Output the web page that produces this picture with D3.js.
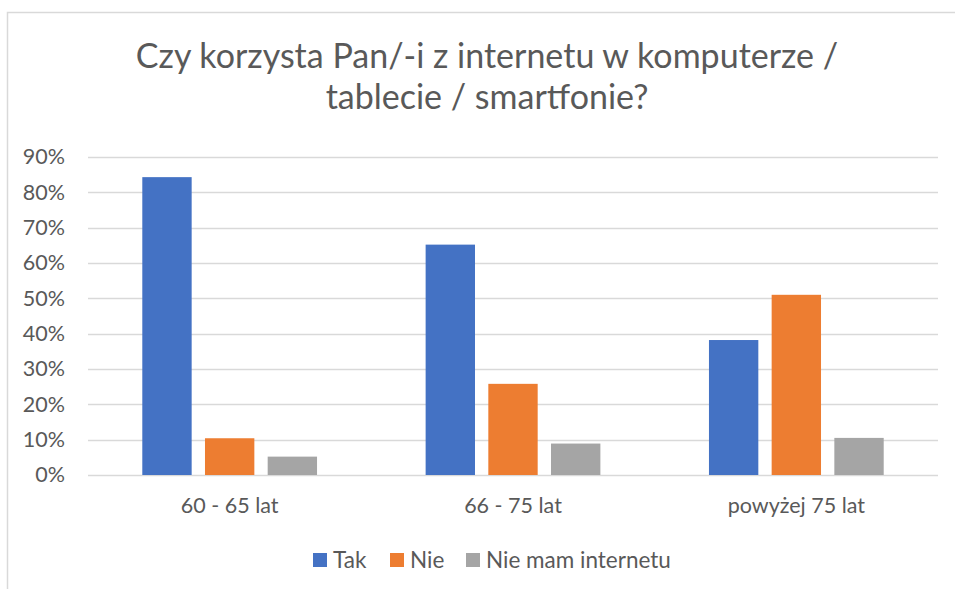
<!DOCTYPE html>
<html>
<head>
<meta charset="utf-8">
<script src="https://cdn.jsdelivr.net/npm/d3@7"></script>
<style>
  body { margin: 0; background: #fff; }
  svg { display: block; font-family: Lato, "Open Sans", sans-serif; }
</style>
</head>
<body>
<svg id="chart"></svg>
<script>
// data
const categories = ["60 - 65 lat", "66 - 75 lat", "powyżej 75 lat"];
const seriesNames = ["Tak", "Nie", "Nie mam internetu"];
const tak = [0.843, 0.652, 0.382];
const nie = [0.104, 0.258, 0.510];
const brak = [0.052, 0.089, 0.105];
const yTicks = [0, 0.1, 0.2, 0.3, 0.4, 0.5, 0.6, 0.7, 0.8, 0.9];
const titleLines = ["Czy korzysta Pan/-i z internetu w komputerze /", "tablecie / smartfonie?"];

const colors = ["#4472c4", "#ed7d31", "#a5a5a5"];
const textColor = "#595959";
const font = "Lato, sans-serif";

const width = 955, height = 589;
const margin = { top: 157, right: 17, bottom: 114, left: 88 };

const svg = d3.select("#chart")
  .attr("width", width)
  .attr("height", height);

// chart frame (runs off right / bottom edge like the screenshot)
svg.append("rect")
  .attr("x", 7.5).attr("y", 12.5)
  .attr("width", 960).attr("height", 600)
  .attr("fill", "none")
  .attr("stroke", "#d9d9d9")
  .attr("stroke-width", 1.5);

const y = d3.scaleLinear()
  .domain([0, 0.9])
  .range([height - margin.bottom, margin.top]);

const x0 = d3.scaleBand()
  .domain(categories)
  .range([margin.left, width - margin.right]);

// excel style: gap width ~220%, overlap ~ -27%
const barW = x0.bandwidth() / 5.74;
const groupW = barW * 3.54;
const x1 = d3.scaleBand()
  .domain(d3.range(seriesNames.length))
  .range([0, groupW])
  .paddingInner(0.27 / 1.27);

// gridlines
svg.append("g")
  .selectAll("line")
  .data(yTicks)
  .join("line")
  .attr("x1", margin.left)
  .attr("x2", width - margin.right)
  .attr("y1", d => Math.round(y(d)) + 0.5)
  .attr("y2", d => Math.round(y(d)) + 0.5)
  .attr("stroke", "#d9d9d9")
  .attr("stroke-width", 1.3);

// y axis labels
const yAxis = d3.axisLeft(y)
  .tickValues(yTicks)
  .tickFormat(d3.format(".0%"))
  .tickSize(0)
  .tickPadding(23);

svg.append("g")
  .attr("transform", `translate(${margin.left},0)`)
  .call(yAxis)
  .call(g => g.select(".domain").remove())
  .call(g => g.selectAll("text")
    .attr("fill", textColor)
    .attr("font-size", 21.5)
    .attr("font-family", font));

// bars
const rows = categories.map((c, i) => ({ cat: c, vals: [tak[i], nie[i], brak[i]] }));

svg.append("g")
  .selectAll("g")
  .data(rows)
  .join("g")
  .attr("transform", d => `translate(${x0(d.cat) + (x0.bandwidth() - groupW) / 2},0)`)
  .selectAll("rect")
  .data(d => d.vals.map((v, i) => ({ v, i })))
  .join("rect")
  .attr("x", d => x1(d.i))
  .attr("width", x1.bandwidth())
  .attr("y", d => y(d.v))
  .attr("height", d => y(0) - y(d.v))
  .attr("fill", d => colors[d.i]);

// category axis
const xAxis = d3.axisBottom(x0).tickSize(0).tickPadding(23);
svg.append("g")
  .attr("transform", `translate(0,${height - margin.bottom})`)
  .call(xAxis)
  .call(g => g.select(".domain").remove())
  .call(g => g.selectAll("text")
    .attr("fill", textColor)
    .attr("font-size", 21.5)
    .attr("font-family", font));

// title
svg.append("text")
  .attr("y", 68)
  .attr("text-anchor", "middle")
  .attr("fill", textColor)
  .attr("font-size", 34)
  .selectAll("tspan")
  .data(titleLines)
  .join("tspan")
  .attr("x", 487)
  .attr("dy", (d, i) => i === 0 ? 0 : 41)
  .text(d => d);

// legend
const legendX = [313, 390, 466];
const legend = svg.append("g")
  .selectAll("g")
  .data(seriesNames)
  .join("g")
  .attr("transform", (d, i) => `translate(${legendX[i]},553)`);

legend.append("rect")
  .attr("width", 14).attr("height", 14)
  .attr("fill", (d, i) => colors[i]);

legend.append("text")
  .attr("x", 20)
  .attr("y", 14.5)
  .attr("fill", textColor)
  .attr("font-size", 22.5)
  .text(d => d);
</script>
</body>
</html>
